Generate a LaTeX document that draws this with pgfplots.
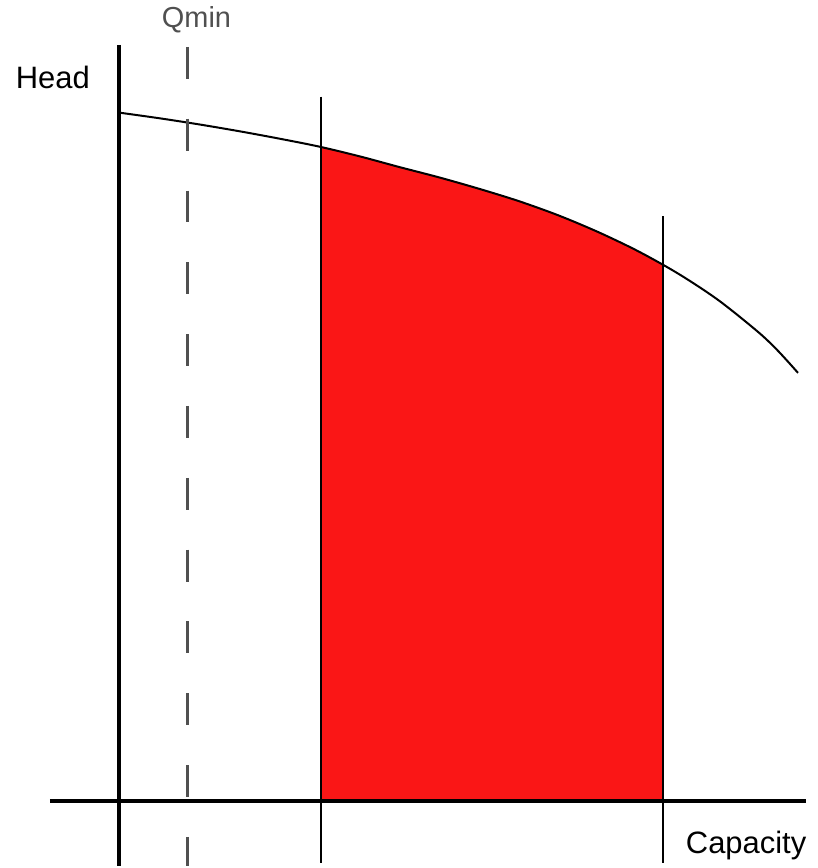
\documentclass[border=0pt]{standalone}
\usepackage{pgfplots}
\pgfplotsset{compat=1.18}
\usepgfplotslibrary{fillbetween}
\usepackage{fontspec}
\setmainfont{Liberation Sans}
\definecolor{fillred}{RGB}{250,22,22}
\definecolor{qgray}{RGB}{80,80,80}
\begin{document}
\begin{tikzpicture}
\begin{axis}[scale only axis, width=410pt, height=434pt,
  xmin=0, xmax=820, ymin=0, ymax=868, hide axis, clip=false]
% bounding frame (invisible)
\addplot[draw=none] coordinates {(0,0) (820,868)};
% pump curve
\addplot[name path=curve, black, line width=1pt, smooth] coordinates {
(120,755) (160,749.4) (200,743.2) (240,736.4) (280,729) (320,721)
(360,711.4) (400,700.6) (440,690.2) (480,678.8) (520,666.4) (560,652)
(600,635.2) (640,616) (680,593.6) (720,567.2) (760,535.2) (780,516.2) (800,494.2)};
\addplot[name path=base, draw=none] coordinates {(322,65) (665,65)};
\addplot[fillred] fill between[of=curve and base, soft clip={domain=322:665}];
% axes
\addplot[black, line width=2.2pt] coordinates {(119,823) (119,0)};
\addplot[black, line width=2.2pt] coordinates {(50,65) (808,65)};
% operating range limits
\addplot[black, line width=1pt] coordinates {(322,771) (322,3)};
\addplot[black, line width=1pt] coordinates {(665,651) (665,3)};
% Qmin dashed
\addplot[qgray, line width=1.1pt, dash pattern=on 16pt off 20pt] coordinates {(188,821) (188,0)};
% labels
\node[font=\fontsize{15.5}{18}\selectfont] at (axis cs:53,790) {Head};
\node[font=\fontsize{14.5}{17}\selectfont, text=qgray] at (axis cs:197,848) {Qmin};
\node[font=\fontsize{15.5}{18}\selectfont] at (axis cs:748,20) {Capacity};
\end{axis}
\end{tikzpicture}
\end{document}
